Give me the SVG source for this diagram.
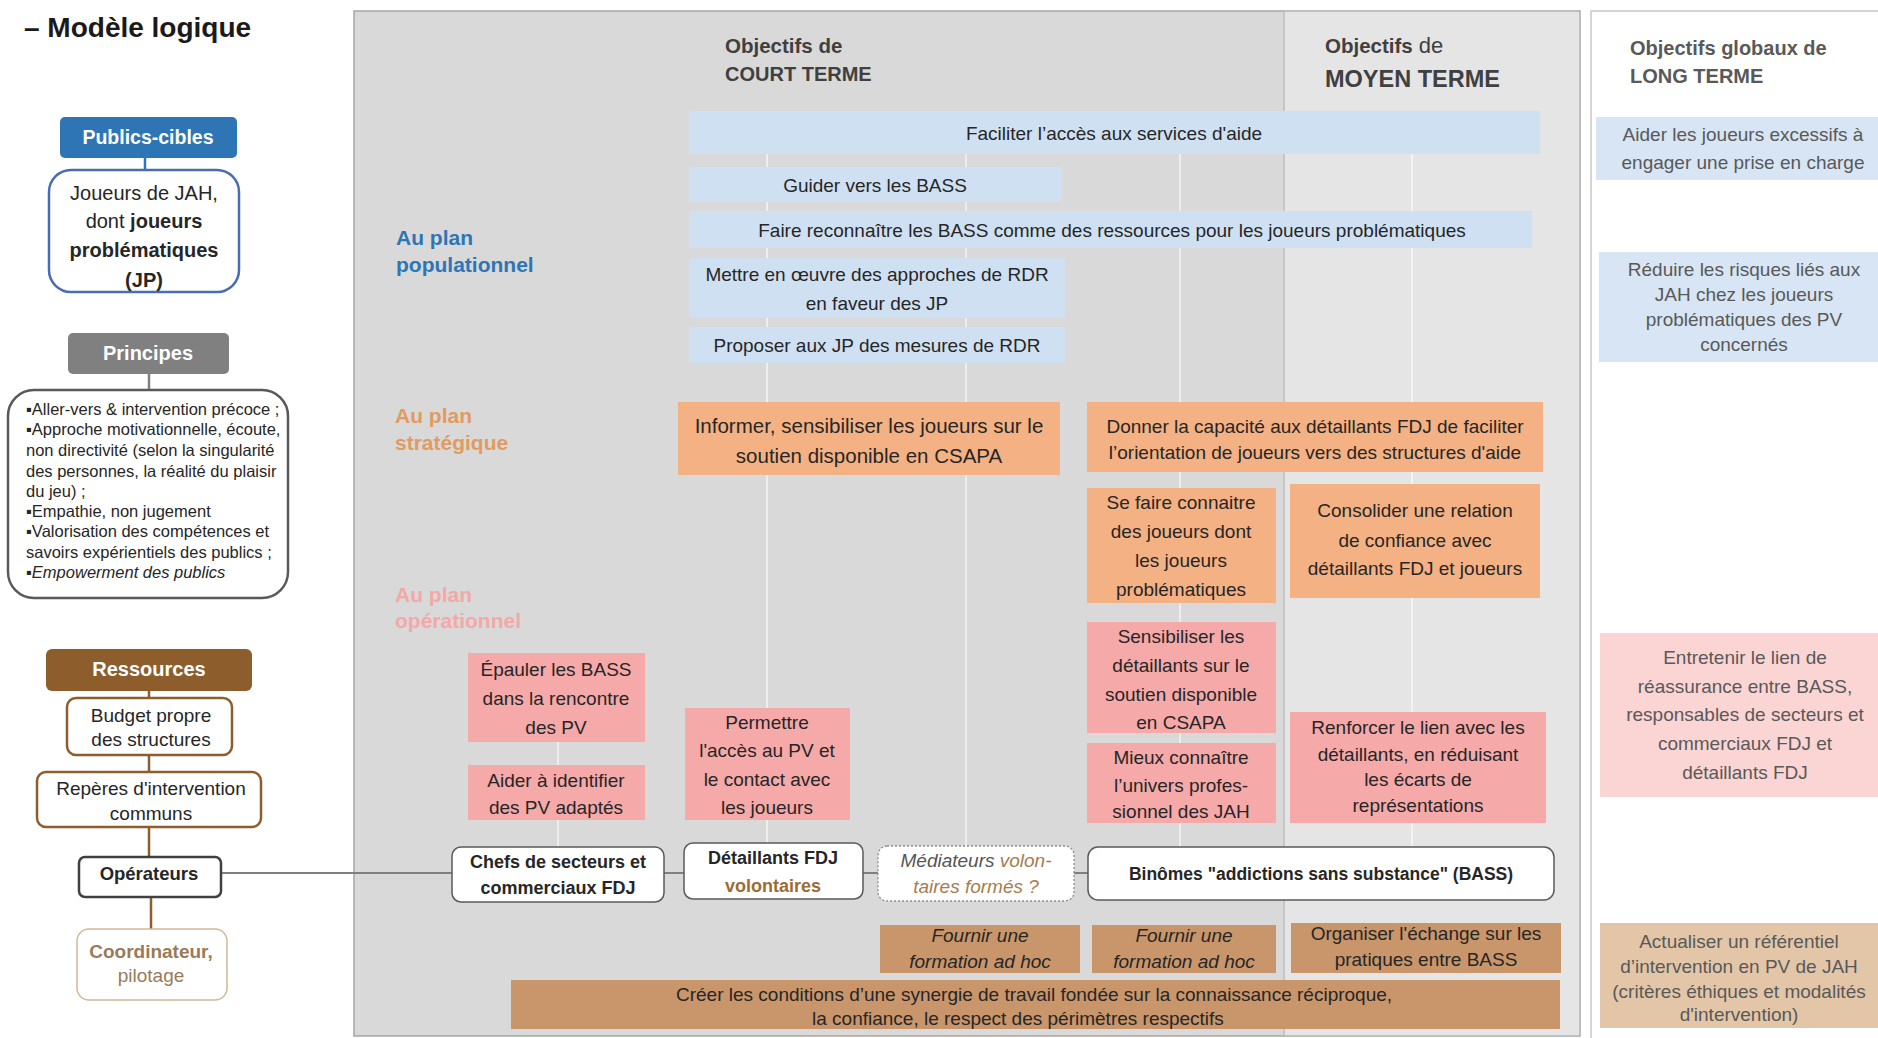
<svg xmlns="http://www.w3.org/2000/svg" width="1878" height="1038" viewBox="0 0 1878 1038">
<style>
text{font-family:"Liberation Sans",Arial,sans-serif;fill:#262626;font-size:19px}
.c{text-anchor:middle}
.b{font-weight:bold}
.i{font-style:italic}
.w{fill:#ffffff}
.g{fill:#595959}
.h{fill:#404040;font-weight:bold}
.pr{font-size:16.5px}
.blue{fill:#cfe0f2}
.blueL{fill:#d7e5f4}
.orange{fill:#f4b183}
.pink{fill:#f5a9a9}
.pinkL{fill:#fbd4d4}
.tan{fill:#c9956a}
.tanL{fill:#e3c6a8}
.op{fill:#ffffff;stroke:#595959;stroke-width:1.5}
.conn{stroke:#7f7f7f;stroke-width:2;fill:none}
.vl{stroke:#ffffff;stroke-opacity:0.55;stroke-width:2}
.br{stroke:#8d5d2c;stroke-width:2.5}
</style>

<!-- panels -->
<g id="panels">
  <rect x="354" y="11" width="1226" height="1025" fill="#d9d9d9" stroke="#a6a6a6" stroke-width="1.5"/>
  <rect x="1284" y="11.75" width="295.25" height="1023.5" fill="#e5e5e5"/>
  <line x1="1284" y1="11" x2="1284" y2="1036" stroke="#bdbdbd" stroke-width="1.5"/>
  <rect x="1591" y="11" width="300" height="1040" fill="#ffffff" stroke="#c8c8c8" stroke-width="1.5"/>
</g>

<!-- faint verticals -->
<g id="guides">
  <line class="vl" x1="558" y1="742" x2="558" y2="847"/>
  <line class="vl" x1="767" y1="154" x2="767" y2="843"/>
  <line class="vl" x1="966" y1="154" x2="966" y2="846"/>
  <line class="vl" x1="1180" y1="154" x2="1180" y2="847"/>
  <line class="vl" x1="1412" y1="154" x2="1412" y2="847"/>
</g>

<!-- title -->
<text x="24" y="37" class="b" style="font-size:28px;fill:#1a1a1a">– Modèle logique</text>

<!-- headers -->
<g id="headers">
  <text x="725" y="53" class="h" style="font-size:20.5px">Objectifs de</text>
  <text x="725" y="81" class="h" style="font-size:20px">COURT TERME</text>
  <text x="1325" y="53" class="h" style="font-size:20.5px">Objectifs<tspan style="font-weight:normal;font-size:22px"> de</tspan></text>
  <text x="1325" y="87" class="h" style="font-size:23.5px">MOYEN TERME</text>
  <text x="1630" y="55" class="b g" style="font-size:20px">Objectifs globaux  de</text>
  <text x="1630" y="83" class="b g" style="font-size:20px">LONG TERME</text>
  <text x="396" y="245" class="b" style="font-size:21px;fill:#2e75b6">Au plan</text>
  <text x="396" y="272" class="b" style="font-size:21px;fill:#2e75b6">populationnel</text>
  <text x="395" y="423" class="b" style="font-size:21px;fill:#e39a5f">Au plan</text>
  <text x="395" y="450" class="b" style="font-size:21px;fill:#e39a5f">stratégique</text>
  <text x="395" y="602" class="b" style="font-size:21px;fill:#f4a8a8">Au plan</text>
  <text x="395" y="628" class="b" style="font-size:21px;fill:#f4a8a8">opérationnel</text>
</g>

<!-- connectors -->
<g id="connectors">
  <line x1="145" y1="158" x2="145" y2="170" stroke="#2e75b6" stroke-width="2.5"/>
  <line x1="149" y1="374" x2="149" y2="390" stroke="#808080" stroke-width="2.5"/>
  <line class="br" x1="149" y1="691" x2="149" y2="698"/>
  <line class="br" x1="149" y1="755" x2="149" y2="772"/>
  <line class="br" x1="149" y1="827" x2="149" y2="857"/>
  <line class="br" x1="151" y1="897" x2="151" y2="929"/>
  <line class="conn" x1="221" y1="873" x2="1088" y2="873"/>
</g>

<!-- left column -->
<g id="publics-cibles">
  <rect x="60" y="117" width="177" height="41" rx="5" fill="#2e75b6"/>
  <text x="148" y="144" class="c b w" style="font-size:19.5px">Publics-cibles</text>
</g>
<g id="joueurs">
  <rect x="49" y="170" width="190" height="122" rx="22" fill="#ffffff" stroke="#4a6cb3" stroke-width="2.5"/>
  <text x="144" y="200" class="c" style="font-size:20px">Joueurs de JAH,</text>
  <text x="144" y="228" class="c" style="font-size:20px">dont <tspan class="b">joueurs</tspan></text>
  <text x="144" y="257" class="c b" style="font-size:20px">problématiques</text>
  <text x="144" y="287" class="c b" style="font-size:20px">(JP)</text>
</g>
<g id="principes">
  <rect x="68" y="333" width="161" height="41" rx="5" fill="#808080"/>
  <text x="148" y="360" class="c b w" style="font-size:20px">Principes</text>
</g>
<g id="principes-liste">
  <rect x="8" y="390" width="280" height="208" rx="26" fill="#ffffff" stroke="#595959" stroke-width="2.5"/>
  <text x="26" y="415" class="pr">▪Aller-vers &amp; intervention précoce ;</text>
  <text x="26" y="435" class="pr">▪Approche motivationnelle, écoute,</text>
  <text x="26" y="456" class="pr">non directivité (selon la singularité</text>
  <text x="26" y="477" class="pr">des personnes, la réalité du plaisir</text>
  <text x="26" y="497" class="pr">du jeu) ;</text>
  <text x="26" y="517" class="pr">▪Empathie, non jugement</text>
  <text x="26" y="537" class="pr">▪Valorisation des compétences et</text>
  <text x="26" y="558" class="pr">savoirs expérientiels des publics ;</text>
  <text x="26" y="578" class="pr">▪<tspan class="i">Empowerment des publics</tspan></text>
</g>
<g id="ressources">
  <rect x="46" y="649" width="206" height="42" rx="6" fill="#8d5d2c"/>
  <text x="149" y="676" class="c b w" style="font-size:20px">Ressources</text>
</g>
<g id="budget">
  <rect x="67" y="698" width="165" height="57" rx="9" fill="#ffffff" stroke="#8d5d2c" stroke-width="2.5"/>
  <text x="151" y="722" class="c">Budget propre</text>
  <text x="151" y="746" class="c">des structures</text>
</g>
<g id="reperes">
  <rect x="37" y="772" width="224" height="55" rx="9" fill="#ffffff" stroke="#8d5d2c" stroke-width="2.5"/>
  <text x="151" y="795" class="c">Repères d'intervention</text>
  <text x="151" y="820" class="c">communs</text>
</g>
<g id="operateurs">
  <rect x="79" y="857" width="142" height="40" rx="6" fill="#ffffff" stroke="#404040" stroke-width="2.5"/>
  <text x="149" y="880" class="c b" style="font-size:18.5px">Opérateurs</text>
</g>
<g id="coordinateur">
  <rect x="77" y="929" width="150" height="71" rx="12" fill="#ffffff" stroke="#d3b896" stroke-width="1.5"/>
  <text x="151" y="958" class="c b" style="fill:#9b7a57">Coordinateur,</text>
  <text x="151" y="982" class="c" style="fill:#9b7a57">pilotage</text>
</g>

<!-- populationnel -->
<g id="faciliter">
  <rect class="blue" x="689" y="111" width="851" height="43"/>
  <text x="1114" y="140" class="c">Faciliter l’accès aux services d'aide</text>
</g>
<g id="guider">
  <rect class="blue" x="689" y="167" width="373" height="35"/>
  <text x="875" y="192" class="c">Guider vers les BASS</text>
</g>
<g id="faire-reconnaitre">
  <rect class="blue" x="689" y="211" width="843" height="37"/>
  <text x="1112" y="237" class="c">Faire reconnaître les BASS comme des ressources pour les joueurs problématiques</text>
</g>
<g id="mettre">
  <rect class="blue" x="689" y="258" width="376" height="60"/>
  <text x="877" y="281" class="c">Mettre en œuvre des approches de RDR</text>
  <text x="877" y="310" class="c">en faveur des JP</text>
</g>
<g id="proposer">
  <rect class="blue" x="689" y="327" width="376" height="36"/>
  <text x="877" y="352" class="c">Proposer aux JP des mesures de RDR</text>
</g>
<g id="aider-joueurs">
  <rect class="blueL" x="1596" y="117" width="290" height="63"/>
  <text x="1743" y="141" class="c g">Aider les joueurs excessifs à</text>
  <text x="1743" y="169" class="c g">engager une prise en charge</text>
</g>
<g id="reduire">
  <rect class="blueL" x="1599" y="252" width="290" height="110"/>
  <text x="1744" y="276" class="c g">Réduire les risques liés aux</text>
  <text x="1744" y="301" class="c g">JAH chez les joueurs</text>
  <text x="1744" y="326" class="c g">problématiques des PV</text>
  <text x="1744" y="351" class="c g">concernés</text>
</g>

<!-- stratégique -->
<g id="informer">
  <rect class="orange" x="678" y="402" width="382" height="73"/>
  <text x="869" y="433" class="c" style="font-size:20.5px">Informer, sensibiliser les joueurs sur le</text>
  <text x="869" y="463" class="c" style="font-size:20.5px">soutien disponible en CSAPA</text>
</g>
<g id="donner">
  <rect class="orange" x="1087" y="402" width="456" height="70"/>
  <text x="1315" y="433" class="c">Donner la capacité aux détaillants FDJ de faciliter</text>
  <text x="1315" y="459" class="c">l’orientation de joueurs vers des structures d'aide</text>
</g>
<g id="se-faire-connaitre">
  <rect class="orange" x="1087" y="488" width="189" height="115"/>
  <text x="1181" y="509" class="c">Se faire connaitre</text>
  <text x="1181" y="538" class="c">des joueurs dont</text>
  <text x="1181" y="567" class="c">les joueurs</text>
  <text x="1181" y="596" class="c">problématiques</text>
</g>
<g id="consolider">
  <rect class="orange" x="1290" y="484" width="250" height="114"/>
  <text x="1415" y="517" class="c">Consolider  une relation</text>
  <text x="1415" y="547" class="c">de confiance  avec</text>
  <text x="1415" y="575" class="c">détaillants FDJ et joueurs</text>
</g>

<!-- opérationnel -->
<g id="epauler">
  <rect class="pink" x="468" y="653" width="177" height="89"/>
  <text x="556" y="676" class="c">Épauler les BASS</text>
  <text x="556" y="705" class="c">dans la rencontre</text>
  <text x="556" y="734" class="c">des PV</text>
</g>
<g id="aider-identifier">
  <rect class="pink" x="468" y="765" width="177" height="55"/>
  <text x="556" y="787" class="c">Aider à identifier</text>
  <text x="556" y="814" class="c">des PV adaptés</text>
</g>
<g id="permettre">
  <rect class="pink" x="685" y="708" width="165" height="112"/>
  <text x="767" y="729" class="c">Permettre</text>
  <text x="767" y="757" class="c">l'accès au PV et</text>
  <text x="767" y="786" class="c">le contact avec</text>
  <text x="767" y="814" class="c">les joueurs</text>
</g>
<g id="sensibiliser">
  <rect class="pink" x="1087" y="622" width="189" height="111"/>
  <text x="1181" y="643" class="c">Sensibiliser  les</text>
  <text x="1181" y="672" class="c">détaillants sur le</text>
  <text x="1181" y="701" class="c">soutien disponible</text>
  <text x="1181" y="729" class="c">en CSAPA</text>
</g>
<g id="mieux-connaitre">
  <rect class="pink" x="1087" y="743" width="189" height="80"/>
  <text x="1181" y="764" class="c">Mieux connaître</text>
  <text x="1181" y="792" class="c">l’univers profes-</text>
  <text x="1181" y="818" class="c">sionnel  des JAH</text>
</g>
<g id="renforcer">
  <rect class="pink" x="1290" y="712" width="256" height="111"/>
  <text x="1418" y="734" class="c">Renforcer le lien avec les</text>
  <text x="1418" y="761" class="c">détaillants, en réduisant</text>
  <text x="1418" y="786" class="c">les écarts de</text>
  <text x="1418" y="812" class="c">représentations</text>
</g>
<g id="entretenir">
  <rect class="pinkL" x="1600" y="633" width="290" height="164"/>
  <text x="1745" y="664" class="c g">Entretenir le lien de</text>
  <text x="1745" y="693" class="c g">réassurance entre BASS,</text>
  <text x="1745" y="721" class="c g">responsables  de secteurs et</text>
  <text x="1745" y="750" class="c g">commerciaux FDJ et</text>
  <text x="1745" y="779" class="c g">détaillants FDJ</text>
</g>

<!-- operator row -->
<g id="chefs">
  <rect class="op" x="452" y="847" width="212" height="55" rx="9"/>
  <text x="558" y="868" class="c b" style="font-size:18px">Chefs de secteurs et</text>
  <text x="558" y="894" class="c b" style="font-size:18px">commerciaux FDJ</text>
</g>
<g id="detaillants">
  <rect class="op" x="684" y="843" width="179" height="56" rx="9"/>
  <text x="773" y="864" class="c b" style="font-size:18px">Détaillants FDJ</text>
  <text x="773" y="892" class="c b" style="font-size:18px;fill:#9c6c35">volontaires</text>
</g>
<g id="mediateurs">
  <rect x="878" y="846" width="196" height="55" rx="9" fill="#ffffff" stroke="#8c8c8c" stroke-width="1.3" stroke-dasharray="2 2"/>
  <text x="976" y="867" class="c i" style="fill:#555555">Médiateurs <tspan style="fill:#a47c50">volon-</tspan></text>
  <text x="976" y="893" class="c i" style="fill:#a47c50">taires formés ?</text>
</g>
<g id="bass">
  <rect class="op" x="1088" y="847" width="466" height="53" rx="10"/>
  <text x="1321" y="880" class="c b" style="font-size:17.5px">Binômes "addictions sans substance" (BASS)</text>
</g>

<!-- resources row -->
<g id="fournir-1">
  <rect class="tan" x="880" y="925" width="200" height="48"/>
  <text x="980" y="942" class="c i">Fournir une</text>
  <text x="980" y="968" class="c i">formation ad hoc</text>
</g>
<g id="fournir-2">
  <rect class="tan" x="1092" y="925" width="184" height="48"/>
  <text x="1184" y="942" class="c i">Fournir une</text>
  <text x="1184" y="968" class="c i">formation ad hoc</text>
</g>
<g id="organiser">
  <rect class="tan" x="1291" y="923" width="270" height="50"/>
  <text x="1426" y="940" class="c">Organiser l'échange sur les</text>
  <text x="1426" y="966" class="c">pratiques entre BASS</text>
</g>
<g id="creer">
  <rect class="tan" x="511" y="980" width="1049" height="49"/>
  <text x="676" y="1001">Créer les conditions d’une synergie de travail fondée sur la connaissance réciproque,</text>
  <text x="812" y="1025">la confiance, le respect des périmètres respectifs</text>
</g>
<g id="actualiser">
  <rect class="tanL" x="1600" y="923" width="290" height="105"/>
  <text x="1739" y="948" class="c g">Actualiser un référentiel</text>
  <text x="1739" y="973" class="c g">d’intervention en PV de JAH</text>
  <text x="1739" y="998" class="c g">(critères éthiques et modalités</text>
  <text x="1739" y="1021" class="c g">d'intervention)</text>
</g>
</svg>
